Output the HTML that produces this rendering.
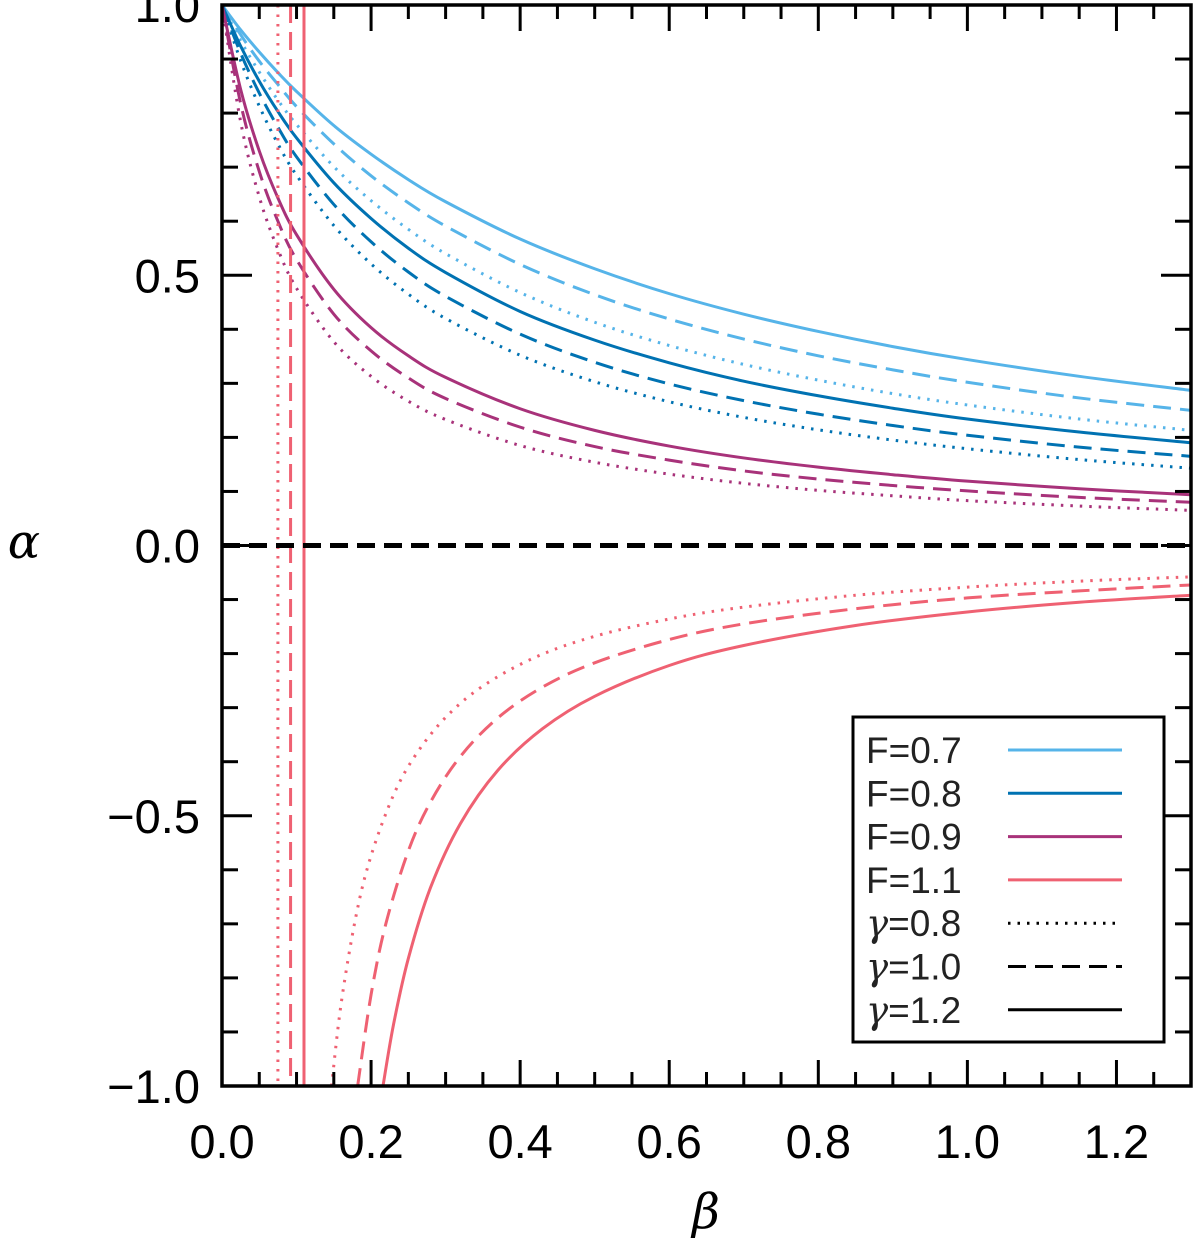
<!DOCTYPE html>
<html><head><meta charset="utf-8"><style>
body{margin:0;background:#fff;}
svg{display:block;font-family:"Liberation Sans","DejaVu Sans",sans-serif;}
</style></head><body>
<svg id="chart" width="1200" height="1248" viewBox="0 0 1200 1248" xmlns="http://www.w3.org/2000/svg">
<g id="marks"></g>
<g id="axes"></g>
</svg>
<script>
const betas = [0,0.025,0.05,0.075,0.1,0.15,0.2,0.25,0.3,0.4,0.5,0.6,0.7,0.8,0.9,1.0,1.15,1.3];
const f07g12 = [1,0.954,0.913,0.875,0.840,0.777,0.724,0.677,0.636,0.567,0.512,0.466,0.428,0.396,0.368,0.344,0.313,0.287];
const f07g10 = [1,0.945,0.896,0.853,0.812,0.743,0.684,0.634,0.591,0.520,0.464,0.419,0.382,0.351,0.325,0.302,0.273,0.250];
const f07g08 = [1,0.934,0.876,0.824,0.779,0.701,0.638,0.585,0.540,0.468,0.413,0.370,0.335,0.306,0.281,0.260,0.234,0.213];
const f08g12 = [1,0.924,0.859,0.803,0.754,0.671,0.605,0.550,0.505,0.433,0.380,0.338,0.304,0.277,0.254,0.234,0.210,0.190];
const f08g10 = [1,0.911,0.837,0.774,0.719,0.631,0.562,0.506,0.461,0.391,0.339,0.299,0.268,0.243,0.222,0.204,0.182,0.165];
const f08g08 = [1,0.897,0.813,0.743,0.685,0.592,0.521,0.465,0.420,0.352,0.303,0.266,0.237,0.214,0.195,0.179,0.159,0.143];
const f09g12 = [1,0.844,0.730,0.643,0.575,0.474,0.403,0.351,0.311,0.253,0.213,0.184,0.162,0.145,0.131,0.119,0.105,0.094];
const f09g10 = [1,0.818,0.692,0.600,0.529,0.428,0.360,0.310,0.272,0.219,0.183,0.158,0.138,0.123,0.111,0.101,0.089,0.080];
const f09g08 = [1,0.784,0.645,0.548,0.476,0.377,0.313,0.267,0.233,0.185,0.154,0.132,0.115,0.102,0.092,0.083,0.073,0.065];
const betasF11g12 = [0.216,0.23,0.25,0.28,0.32,0.37,0.43,0.5,0.6,0.7,0.85,1.0,1.15,1.3];
const f11g12 = [-1.0,-0.887,-0.764,-0.632,-0.514,-0.416,-0.339,-0.279,-0.222,-0.185,-0.148,-0.123,-0.105,-0.092];
const betasF11g10 = [0.182,0.2,0.22,0.25,0.28,0.32,0.37,0.43,0.5,0.6,0.7,0.85,1.0,1.15,1.3];
const f11g10 = [-1.0,-0.831,-0.699,-0.565,-0.474,-0.390,-0.319,-0.262,-0.217,-0.174,-0.145,-0.117,-0.097,-0.084,-0.073];
const betasF11g08 = [0.147,0.16,0.18,0.2,0.23,0.26,0.3,0.35,0.42,0.5,0.6,0.7,0.85,1.0,1.15,1.3];
const f11g08 = [-1.0,-0.846,-0.684,-0.574,-0.462,-0.387,-0.318,-0.260,-0.207,-0.168,-0.136,-0.114,-0.092,-0.077,-0.066,-0.058];
const asymptotes = [0.075,0.092,0.11];
const xTicks = [0.0,0.2,0.4,0.6,0.8,1.0,1.2];
const xTickLabels = ["0.0","0.2","0.4","0.6","0.8","1.0","1.2"];
const yTicks = [1.0,0.5,0.0,-0.5,-1.0];
const yTickLabels = ["1.0","0.5","0.0","\u22120.5","\u22121.0"];

const X0=222, X1=1191, Y0=5, Y1=1086;
const xMin=0, xMax=1.3, yMin=-1, yMax=1;
const sx = v => X0 + (v-xMin)/(xMax-xMin)*(X1-X0);
const sy = v => Y1 - (v-yMin)/(yMax-yMin)*(Y1-Y0);
const NS="http://www.w3.org/2000/svg";
const marks=document.getElementById('marks'), axes=document.getElementById('axes');
function mk(tag, attrs, parent){const e=document.createElementNS(NS,tag);for(const k in attrs)e.setAttribute(k,attrs[k]);parent.appendChild(e);return e;}
const C={f07:"#56b4e9",f08:"#0072b2",f09:"#a8327a",f11:"#ef6172"};
const DASH={g08:"2.5 7",g10:"18 9",g12:""};
function smoothPath(xs,ys){
  const p=xs.map((x,i)=>[sx(x),sy(ys[i])]);
  let d=`M${p[0][0]},${p[0][1]}`;
  for(let i=0;i<p.length-1;i++){
    const p0=p[Math.max(i-1,0)],p1=p[i],p2=p[i+1],p3=p[Math.min(i+2,p.length-1)];
    const c1=[p1[0]+(p2[0]-p0[0])/6,p1[1]+(p2[1]-p0[1])/6];
    const c2=[p2[0]-(p3[0]-p1[0])/6,p2[1]-(p3[1]-p1[1])/6];
    d+=` C${c1[0]},${c1[1]} ${c2[0]},${c2[1]} ${p2[0]},${p2[1]}`;
  }
  return d;
}
const cp=mk('clipPath',{id:'plotclip'},marks);
mk('rect',{x:X0,y:Y0,width:X1-X0,height:Y1-Y0},cp);
const series=[
 ['curve-f07-g12',betas,f07g12,C.f07,DASH.g12],['curve-f07-g10',betas,f07g10,C.f07,DASH.g10],['curve-f07-g08',betas,f07g08,C.f07,DASH.g08],
 ['curve-f08-g12',betas,f08g12,C.f08,DASH.g12],['curve-f08-g10',betas,f08g10,C.f08,DASH.g10],['curve-f08-g08',betas,f08g08,C.f08,DASH.g08],
 ['curve-f09-g12',betas,f09g12,C.f09,DASH.g12],['curve-f09-g10',betas,f09g10,C.f09,DASH.g10],['curve-f09-g08',betas,f09g08,C.f09,DASH.g08],
 ['curve-f11-g12',betasF11g12,f11g12,C.f11,DASH.g12],['curve-f11-g10',betasF11g10,f11g10,C.f11,DASH.g10],['curve-f11-g08',betasF11g08,f11g08,C.f11,DASH.g08]
];
series.forEach(s=>{
  const el=mk('path',{d:smoothPath(s[1],s[2]),fill:'none',stroke:s[3],'stroke-width':3,'stroke-dasharray':s[4],'clip-path':'url(#plotclip)'},marks);
  
  
});
const asymDash=[DASH.g08,DASH.g10,DASH.g12];
asymptotes.forEach((a,i)=>{
  const el=mk('line',{x1:sx(a),x2:sx(a),y1:Y0,y2:Y1,stroke:C.f11,'stroke-width':3,'stroke-dasharray':asymDash[i]},marks);
  
  
});
const zl=mk('line',{x1:X0,x2:X1,y1:sy(0),y2:sy(0),stroke:'#000','stroke-width':5,'stroke-dasharray':'18 9'},marks);



const fr=mk('rect',{x:X0,y:Y0,width:X1-X0,height:Y1-Y0,fill:'none',stroke:'#000','stroke-width':3.5},axes);


for(let i=0;i<=26;i++){
  const v=i*0.05, x=sx(v), major=(i%4===0), L=major?26:14;
  mk('line',{x1:x,x2:x,y1:Y1,y2:Y1-L,stroke:'#000','stroke-width':3},axes);
  mk('line',{x1:x,x2:x,y1:Y0,y2:Y0+L,stroke:'#000','stroke-width':3},axes);
}
for(let i=0;i<=20;i++){
  const v=-1+i*0.1, y=sy(v), major=(i%5===0), L=major?30:16;
  mk('line',{x1:X0,x2:X0+L,y1:y,y2:y,stroke:'#000','stroke-width':3},axes);
  mk('line',{x1:X1,x2:X1-L,y1:y,y2:y,stroke:'#000','stroke-width':3},axes);
}
xTicks.forEach((v,i)=>{
  const t=mk('text',{x:sx(v),y:1158,'text-anchor':'middle','font-size':47},axes);
  t.textContent=xTickLabels[i];
  
  
});
yTicks.forEach((v,i)=>{
  const t=mk('text',{x:200,y:sy(v)+17,'text-anchor':'end','font-size':47},axes);
  t.textContent=yTickLabels[i];
  
  
});
const xt=mk('text',{x:706,y:1228,'text-anchor':'middle','font-size':48,'font-style':'italic','font-family':'DejaVu Serif, serif'},axes);
xt.textContent='β';


const yt=mk('text',{x:24,y:558,'text-anchor':'middle','font-size':48,'font-style':'italic','font-family':'DejaVu Serif, serif'},axes);
yt.textContent='α';



const lg=mk('g',{},axes);


mk('rect',{x:853,y:717,width:311,height:325,fill:'#fff',stroke:'#000','stroke-width':3},lg);
const legSym=["F","F","F","F","γ","γ","γ"];
const legVals=["=0.7","=0.8","=0.9","=1.1","=0.8","=1.0","=1.2"];
const legColors=[C.f07,C.f08,C.f09,C.f11,'#000','#000','#000'];
const legDash=["","","","",DASH.g08,DASH.g10,DASH.g12];
legVals.forEach((lab,i)=>{
  const y=750+i*43.3;
  const t=mk('text',{x:866,y:y+13,'font-size':37,fill:'#222'},lg);
  const s=mk('tspan',{'font-family':i<4?'Liberation Sans, sans-serif':'DejaVu Serif, serif','font-style':i<4?'normal':'italic'},t);
  s.textContent=legSym[i];
  const v=mk('tspan',{},t);
  v.textContent=lab;
  
  
  mk('line',{x1:1008,x2:1122,y1:y,y2:y,stroke:legColors[i],'stroke-width':3,'stroke-dasharray':legDash[i]},lg);
});
</script>
</body></html>
